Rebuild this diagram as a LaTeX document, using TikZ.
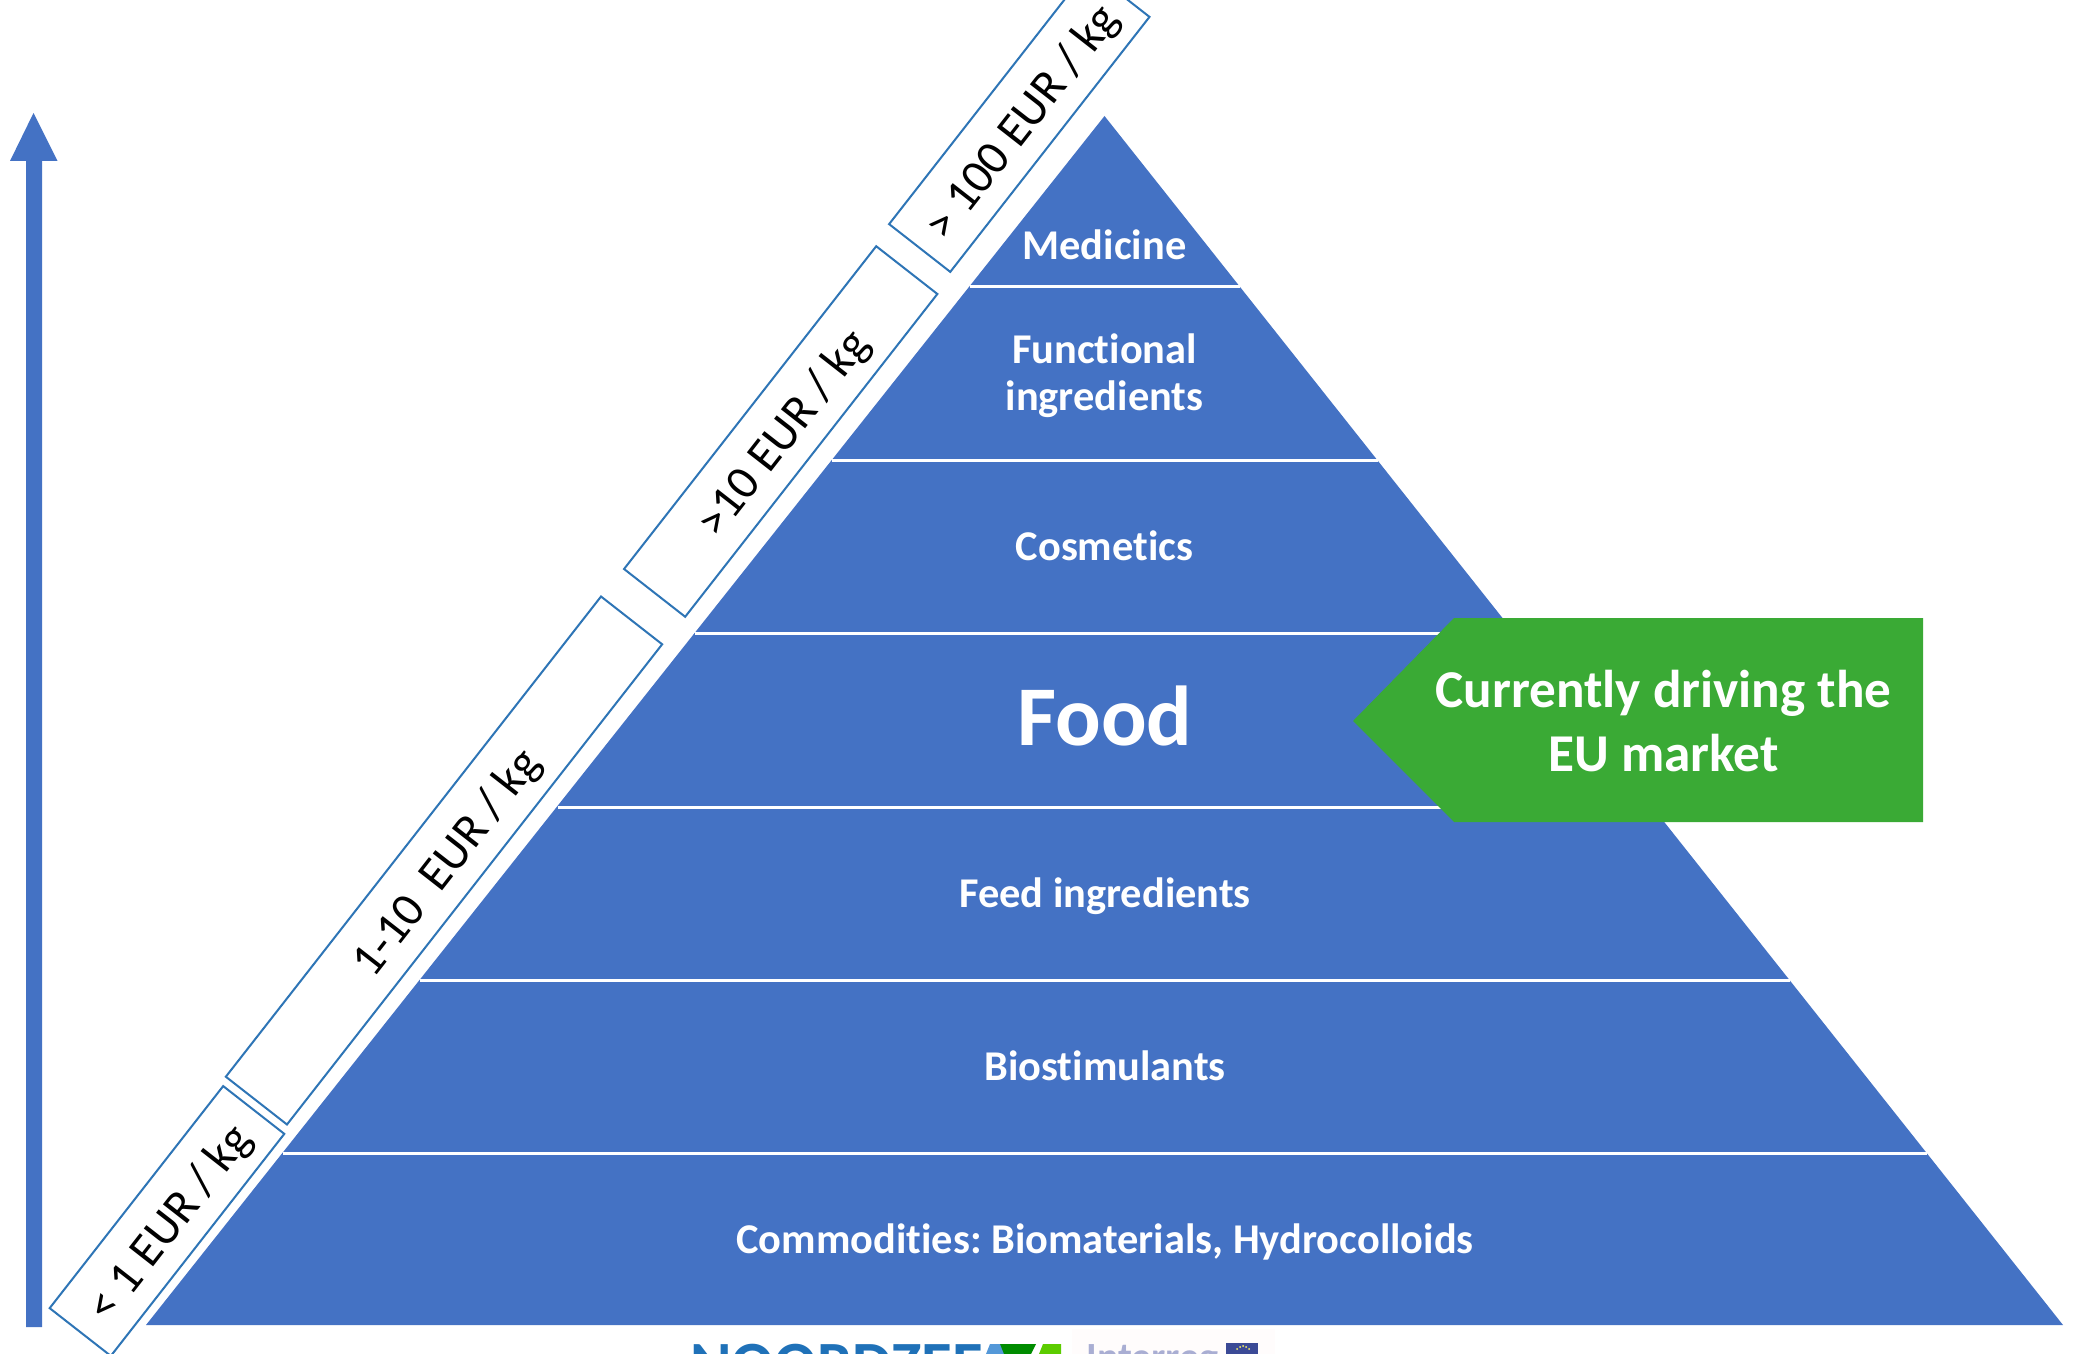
\documentclass[tikz,border=0pt]{standalone}
\usepackage{fontspec}
\setmainfont{Carlito}[Ligatures=CommonOff]
\usetikzlibrary{positioning}
\frenchspacing
\definecolor{pyrblue}{HTML}{4472C4}
\definecolor{boxblue}{HTML}{2E75B6}
\definecolor{mygreen}{HTML}{3AAA35}
\definecolor{logoblue}{HTML}{1F71B8}
\definecolor{regblue}{HTML}{A9AED3}
\definecolor{flagblue}{HTML}{3B4A96}
\tikzset{
  band/.style={text=white,font=\fontsize{21.2}{23.5}\selectfont\bfseries,align=center},
  price/.style={draw=boxblue,line width=1pt,fill=white,rotate=52,minimum height=38.8pt,
    inner sep=0pt,text height=20pt,text depth=2.2pt,font=\fontsize{24}{28}\selectfont},
  divider/.style={white,line width=1.5pt},
}
\begin{document}
\begin{tikzpicture}[x=.5pt,y=-.5pt]
\clip (0,0) rectangle (2078,1354);
\fill[white] (0,0) rectangle (2078,1354);
% pyramid
\coordinate (apex) at (1104.5,116);
\coordinate (baseL) at (146,1325);
\coordinate (baseR) at (2063,1325);
\fill[pyrblue] (apex) -- (baseR) -- (baseL) -- cycle;
\foreach \y/\w in {286/135,460/273,633/410,807/547,980/685,1153/822}
  \draw[divider] (1104.5-\w,\y) -- (1104.5+\w,\y);
% band labels
\node[band] (medicine) at (1104.5,245) {Medicine};
\node[band] (functional) at (1104.5,375.5) {Functional\\ingredients};
\node[band] (cosmetics) at (1104.5,546) {Cosmetics};
\node[band,font=\fontsize{42.5}{48}\selectfont\bfseries] (food) at (1105,716) {Food};
\node[band] (feed) at (1105,896) {Feed ingredients};
\node[band] (biostim) at (1105,1066) {Biostimulants};
\node[band] (commodities) at (1105,1241.5) {Commodities: Biomaterials, Hydrocolloids};
% market flag
\fill[mygreen] (1353,721) -- (1454,618) -- (1923,618) -- (1923,822) -- (1454,822) -- cycle;
\node[band,font=\fontsize{26.6}{32}\selectfont\bfseries] (market) at (1663.5,721) {Currently driving the\\EU market};
% price ranges
\node[price,minimum width=140.9pt] (p1) at (167,1221) {< 1 EUR / kg};
\node[price,minimum width=304.7pt] (p2) at (444,860.5) {1-10\hspace{5pt} EUR / kg};
\node[price,minimum width=204.8pt] (p3) at (780.7,431.5) {>10 EUR / kg};
\node[price,minimum width=161.8pt] (p4) at (1019.3,120.5) {> 100 EUR / kg};
% value arrow
\fill[pyrblue] (26,1327) -- (26,161) -- (10,161) -- (33.5,113) -- (57.5,161) -- (42,161) -- (42,1327) -- cycle;
% logo strip
\node[anchor=north west,inner sep=0pt,text=logoblue,font=\fontsize{31.5}{31.5}\selectfont\bfseries] (noordzee) at (690,1344) {NOORDZEE};
\fill[cyan!60!blue!70] (986,1354) -- (990,1344) -- (1000,1344) -- (1006,1354) -- cycle;
\fill[green!55!black] (1000,1344) -- (1036,1344) -- (1031,1354) -- (1004,1354) -- cycle;
\fill[lime!60!green!80!black] (1039,1354) -- (1043,1344) -- (1061,1344) -- (1061,1354) -- cycle;
\fill[red!1!white] (1072,1329) rectangle (1275,1354);
\node[anchor=north west,inner sep=0pt,text=regblue,font=\fontsize{20}{20}\selectfont\bfseries] (interreg) at (1086,1344) {Interreg};
\fill[flagblue] (1226,1343) rectangle (1258,1354);
\foreach \x/\y in {1237/1349,1240/1347,1243/1346,1246/1347,1249/1349}
  \fill[yellow!60] (\x,\y) circle (.5pt);
\end{tikzpicture}
\end{document}
